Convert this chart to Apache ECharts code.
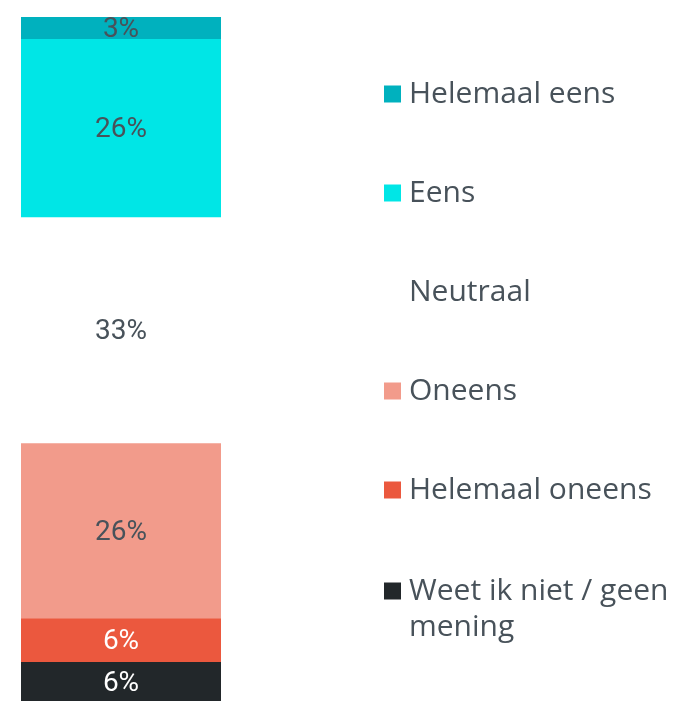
<!DOCTYPE html>
<html>
<head>
<meta charset="utf-8">
<script src="https://cdn.jsdelivr.net/npm/echarts@6/dist/echarts.min.js"></script>
<style>
html,body{margin:0;padding:0;background:#fff;}
#chart{width:692px;height:701px;}
</style>
</head>
<body>
<div id="chart"></div>
<script>
const categories = ['Totaal'];
const seriesNames = ['Helemaal eens', 'Eens', 'Neutraal', 'Oneens', 'Helemaal oneens', 'Weet ik niet / geen mening'];
const seriesValues = [3.2, 26.1, 33.0, 25.6, 6.4, 5.7];
const seriesColors = ['#00b1be', '#00e6e6', '#ffffff', '#f29b8b', '#eb583e', '#22272a'];
const labelColors = ['#48525a', '#48525a', '#48525a', '#48525a', '#ffffff', '#ffffff'];

const chart = echarts.init(document.getElementById('chart'));
const series = seriesNames.map((name, i) => ({
  name: name,
  type: 'bar',
  stack: 'total',
  barWidth: 200,
  data: [seriesValues[i]],
  itemStyle: { color: seriesColors[i] },
  label: {
    show: true,
    position: 'inside',
    offset: [0, 2],
    formatter: p => Math.round(p.value) + '%',
    color: labelColors[i],
    fontFamily: 'Roboto, sans-serif',
    fontSize: 28
  }
}));

const legendText = {
  color: '#48525a',
  fontFamily: '"Open Sans", sans-serif',
  fontSize: 30,
  lineHeight: 36,
  padding: [0, 0, 0, 3]
};

chart.setOption({
  animation: false,
  grid: { left: 21, width: 200, top: 17, height: 687 },
  xAxis: { type: 'category', data: categories, show: false },
  yAxis: { type: 'value', min: 0, max: 100, inverse: true, show: false },
  legend: [{
    orient: 'vertical',
    left: 384,
    top: 76,
    padding: 0,
    itemWidth: 17,
    itemHeight: 17,
    itemGap: 63,
    icon: 'rect',
    selectedMode: false,
    data: seriesNames.slice(0, 5),
    textStyle: legendText
  }, {
    orient: 'vertical',
    left: 384,
    top: 537,
    padding: 0,
    itemWidth: 17,
    itemHeight: 17,
    icon: 'rect',
    selectedMode: false,
    data: seriesNames.slice(5),
    formatter: n => '\nWeet ik niet / geen\nmening',
    textStyle: legendText
  }],
  series: series
});
</script>
</body>
</html>
